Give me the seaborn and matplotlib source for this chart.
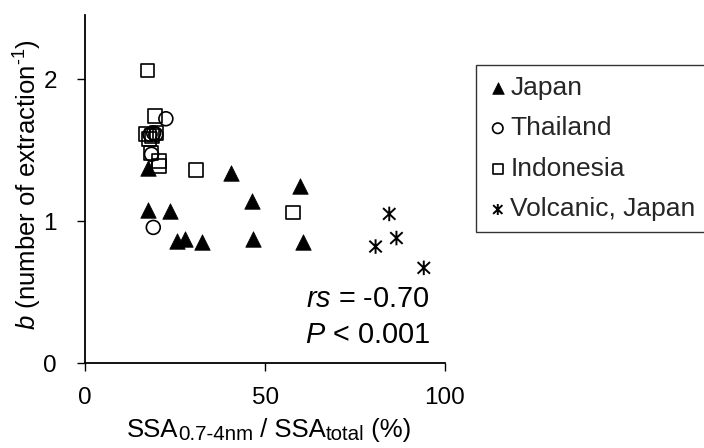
import matplotlib
matplotlib.use("Agg")
import matplotlib.pyplot as plt
from matplotlib.path import Path
import seaborn as sns
import pandas as pd

# ---- data ----
japan_x = [17.3, 17.5, 23.5, 25.4, 27.7, 32.5, 40.6, 46.4, 46.5, 59.6, 60.4]
japan_y = [1.37, 1.08, 1.07, 0.86, 0.87, 0.85, 1.34, 1.14, 0.87, 1.25, 0.85]
thai_x = [22.4, 18.0, 19.0, 19.6, 18.4, 18.9]
thai_y = [1.72, 1.61, 1.62, 1.61, 1.47, 0.955]
indo_x = [17.3, 19.4, 16.9, 17.8, 19.8, 18.5, 18.2, 20.5, 20.5, 30.8, 57.8]
indo_y = [2.06, 1.74, 1.61, 1.58, 1.62, 1.60, 1.48, 1.42, 1.39, 1.36, 1.06]
volc_x = [84.5, 86.5, 80.7, 94.1]
volc_y = [1.05, 0.88, 0.82, 0.67]

groups = ["Japan", "Thailand", "Indonesia", "Volcanic, Japan"]
x_ticks = [0, 50, 100]
y_ticks = [0, 1, 2]

sns.set_theme(style="white")
plt.rcParams["font.family"] = ["Liberation Sans", "DejaVu Sans"]
plt.rcParams["mathtext.fontset"] = "custom"
plt.rcParams["mathtext.rm"] = "Liberation Sans"
plt.rcParams["mathtext.it"] = "Liberation Sans:italic"
plt.rcParams["mathtext.bf"] = "Liberation Sans:bold"

FS = 18.5      # axis labels
FL = 19.0      # legend
FT = 17.5      # tick labels

fig = plt.figure(figsize=(7.04, 4.48), dpi=100)
W, H = 704, 448
x0, x1 = 85.3, 445.0
y0, ytop = 363.0, 15.0
ax = fig.add_axes([x0 / W, 1 - y0 / H, (x1 - x0) / W, (y0 - ytop) / H])

star = Path([(0, -1), (0, 1), (-0.85, -0.8), (0.85, 0.8), (-0.85, 0.8), (0.85, -0.8)],
            [Path.MOVETO, Path.LINETO, Path.MOVETO, Path.LINETO, Path.MOVETO, Path.LINETO])

df_j = pd.DataFrame({"x": japan_x, "y": japan_y})
df_t = pd.DataFrame({"x": thai_x, "y": thai_y})
df_i = pd.DataFrame({"x": indo_x, "y": indo_y})
df_v = pd.DataFrame({"x": volc_x, "y": volc_y})

sns.scatterplot(data=df_j, x="x", y="y", marker="^", s=125, color="black",
                edgecolor="black", linewidth=0.5, ax=ax, label=groups[0])
sns.scatterplot(data=df_t, x="x", y="y", marker="o", s=100, facecolor="none",
                edgecolor="black", linewidth=1.2, ax=ax, label=groups[1])
sns.scatterplot(data=df_i, x="x", y="y", marker="s", s=100, facecolor="none",
                edgecolor="black", linewidth=1.2, ax=ax, label=groups[2])
sns.scatterplot(data=df_v, x="x", y="y", marker=star, s=110, facecolor="none",
                edgecolor="black", linewidth=1.4, ax=ax, label=groups[3])

ax.set_xlim(0, 100)
ax.set_ylim(0, (y0 - ytop) / 142.0)
ax.set_xticks(x_ticks)
ax.set_yticks(y_ticks)
ax.tick_params(axis="both", direction="out", length=5.5, width=1, color="black",
               labelsize=FT, labelcolor="black", bottom=True, left=True)
ax.tick_params(axis="x", pad=12)
ax.tick_params(axis="y", pad=15)
for side in ["top", "right"]:
    ax.spines[side].set_visible(False)
for side in ["left", "bottom"]:
    ax.spines[side].set_color("black")
    ax.spines[side].set_linewidth(1.3)

ax.set_xlabel("")
ax.set_ylabel(r"$\it{b}$ (number of extraction$^{\text{-1}}$)",
              fontsize=FS, color="black")
ax.yaxis.set_label_coords((27.5 - x0) / (x1 - x0), (y0 - 184.5) / (y0 - ytop))
ax.yaxis.label.set_va("center")

# x label built from pieces (large, slightly lowered subscripts as in the original)
pieces = [("SSA", FS, 0), ("0.7-4nm", FS * 0.8, -3), (" / SSA", FS, 0),
          ("total", FS * 0.8, -3), (" (%)", FS, 0)]
renderer = fig.canvas.get_renderer()
texts = []
widths = []
for s, fs, dy in pieces:
    t = fig.text(0, 0, s, fontsize=fs, color="black", va="baseline", ha="left")
    widths.append(t.get_window_extent(renderer).width)
    texts.append((t, dy))
total = sum(widths)
cx = 269.0
base = 437.3
xp = cx - total / 2
for (t, dy), w in zip(texts, widths):
    t.set_position((xp / W, 1 - (base - dy) / H))
    xp += w

ax.text(95.75, 0.394, r"$\it{rs}$ = -0.70", ha="right", va="baseline",
        fontsize=20.8, color="black")
ax.text(95.75, 0.141, r"$\it{P}$ < 0.001", ha="right", va="baseline",
        fontsize=20.8, color="black")

leg = ax.legend(loc="upper left", bbox_to_anchor=(476 / W, 1 - 65 / H),
                bbox_transform=fig.transFigure, fontsize=FL, frameon=True,
                fancybox=False, edgecolor="black", markerscale=0.75,
                handlelength=0.85, handletextpad=0.05, labelspacing=0.63,
                borderpad=0.4, borderaxespad=0)
leg.get_frame().set_linewidth(1.0)

fig.savefig("out.png", dpi=100)
